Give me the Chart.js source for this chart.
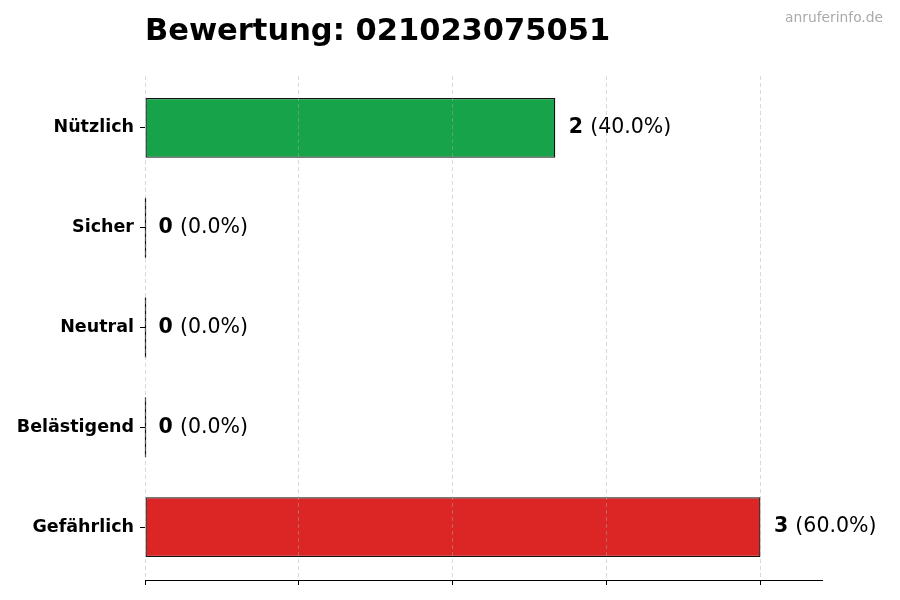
<!DOCTYPE html>
<html>
<head>
<meta charset="utf-8">
<script src="https://cdn.jsdelivr.net/npm/chart.js@4/dist/chart.umd.min.js"></script>
<style>
html,body{margin:0;padding:0;background:#fff;}
#wrap{width:900px;height:600px;position:relative;}
</style>
</head>
<body>
<div id="wrap"><canvas id="c" width="900" height="600"></canvas></div>
<script>
const categories = ["Nützlich", "Sicher", "Neutral", "Belästigend", "Gefährlich"];
const counts = [2, 0, 0, 0, 3];
const percents = ["40.0%", "0.0%", "0.0%", "0.0%", "60.0%"];
const barColors = ["#16a34a", "#16a34a", "#6b7280", "#f59e0b", "#dc2626"];
const xTicks = [0, 0.75, 1.5, 2.25, 3];
const xMax = 3.3;
const titleText = "Bewertung: 021023075051";
const watermark = "anruferinfo.de";

const FONT = "'DejaVu Sans', sans-serif";

const labelPlugin = {
  id: 'labels',
  afterDatasetsDraw(chart) {
    const ctx = chart.ctx;
    const meta = chart.getDatasetMeta(0);
    ctx.save();
    meta.data.forEach((bar, i) => {
      const h = bar.height;
      if (counts[i] === 0) {
        ctx.strokeStyle = '#111';
        ctx.lineWidth = 1.2;
        ctx.setLineDash([]);
        ctx.beginPath();
        ctx.moveTo(bar.base + 0.5, bar.y - h / 2);
        ctx.lineTo(bar.base + 0.5, bar.y + h / 2);
        ctx.stroke();
      }
      const x0 = bar.x + 13.5;
      ctx.textBaseline = 'middle';
      ctx.textAlign = 'left';
      ctx.fillStyle = '#000';
      ctx.font = "bold 20.5px " + FONT;
      const boldTxt = String(counts[i]);
      ctx.fillText(boldTxt, x0, bar.y);
      const w = ctx.measureText(boldTxt + ' ').width;
      ctx.font = "20.5px " + FONT;
      ctx.fillText('(' + percents[i] + ')', x0 + w, bar.y);
    });
    ctx.restore();
  },
  afterDraw(chart) {
    const ctx = chart.ctx;
    ctx.save();
    ctx.fillStyle = '#000';
    ctx.font = "bold 30.5px " + FONT;
    ctx.textAlign = 'left';
    ctx.textBaseline = 'alphabetic';
    ctx.fillText(titleText, chart.chartArea.left, 40);
    ctx.fillStyle = '#aaaaaa';
    ctx.font = "13.8px " + FONT;
    ctx.textAlign = 'right';
    ctx.fillText(watermark, 883, 22);
    ctx.restore();
  }
};

new Chart(document.getElementById('c'), {
  type: 'bar',
  data: {
    datasets: [{
      data: counts.map((v, i) => ({ x: v, y: i })),
      backgroundColor: barColors,
      borderColor: '#111',
      borderWidth: 1.3,
      borderSkipped: false,
      categoryPercentage: 1.0,
      barPercentage: 0.6
    }]
  },
  options: {
    indexAxis: 'y',
    responsive: false,
    animation: false,
    devicePixelRatio: 1,
    layout: { padding: { top: 76, right: 78, left: 0, bottom: 0 } },
    plugins: { legend: { display: false }, tooltip: { enabled: false }, title: { display: false } },
    scales: {
      x: {
        type: 'linear',
        min: 0,
        max: xMax,
        afterBuildTicks(scale) { scale.ticks = xTicks.map(v => ({ value: v })); },
        afterFit(scale) { scale.height = 20; },
        ticks: { callback: () => '', padding: 0 },
        grid: {
          color: 'rgba(170,170,170,0.45)',
          lineWidth: 1,
          z: 1,
          drawTicks: true,
          tickLength: 5,
          tickColor: '#000',
          tickWidth: 1
        },
        border: { display: true, color: '#000', width: 1, dash: [4, 3], z: 2 }
      },
      y: {
        type: 'linear',
        reverse: true,
        offset: false,
        min: -0.52,
        max: 4.53,
        afterBuildTicks(scale) { scale.ticks = categories.map((c, i) => ({ value: i })); },
        afterFit(scale) { scale.width = 145; },
        ticks: {
          color: '#000',
          font: { family: FONT, size: 17.5, weight: 'bold' },
          padding: 6,
          callback: (v) => categories[v] !== undefined ? categories[v] : ''
        },
        grid: {
          drawOnChartArea: false,
          drawTicks: true,
          tickLength: 5,
          tickColor: '#000',
          offset: false
        },
        border: { display: false }
      }
    }
  },
  plugins: [labelPlugin]
});
</script>
</body>
</html>
